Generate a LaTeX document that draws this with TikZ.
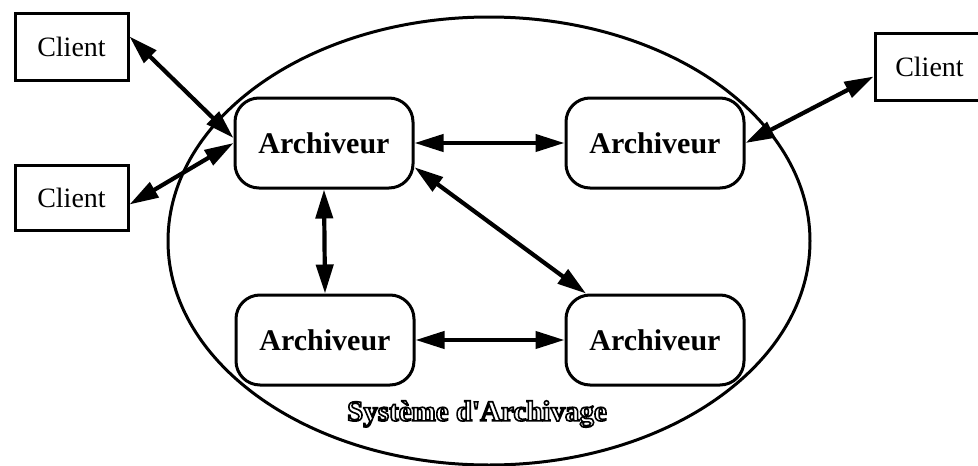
\documentclass[tikz,border=0pt]{standalone}
\usepackage{fontspec}
\setmainfont{Liberation Serif}
% plain family without TeX ligature mapping, so ' stays straight
\newfontfamily\labelfont{Liberation Serif}
\usetikzlibrary{arrows.meta,calc}

% outlined lettering: stroke the glyphs instead of filling them
\newcommand{\outlined}[1]{%
  \special{pdf:literal direct 1 Tr 1.6 w}#1\special{pdf:literal direct 0 Tr 1 w}}

\begin{document}
\begin{tikzpicture}[x=1pt,y=-1pt,
  client/.style={draw,line width=3pt,minimum width=113pt,minimum height=67pt,
    inner sep=0pt,font=\fontsize{28}{30}\selectfont},
  archiveur/.style={draw,line width=3pt,rounded corners=24pt,fill=white,
    minimum width=178pt,minimum height=90pt,inner sep=0pt,
    font=\fontsize{30}{32}\selectfont\bfseries},
  headtip/.tip={Triangle[length=29pt,width=17pt]},
  link/.style={line width=4.2pt,headtip-headtip}]

\useasboundingbox (0,0) rectangle (978,466);

% archiving system boundary
\draw[line width=3pt] (489,241) ellipse [x radius=321pt, y radius=224pt];

% clients
\node[client] (c1) at (71.5,46.5) {Client};
\node[client,minimum height=65pt] (c2) at (71.5,197.5) {Client};
\node[client,minimum width=109pt] (c3) at (929.5,66.5) {Client};

% archivers
\node[archiveur] (a1) at (324,143) {Archiveur};
\node[archiveur] (a2) at (655,143) {Archiveur};
\node[archiveur] (a3) at (325,340) {Archiveur};
\node[archiveur] (a4) at (655,340) {Archiveur};

% system label
\node[font=\labelfont\fontsize{29}{31}\selectfont\bfseries] (sys) at (477,414)
  {\outlined{Système d'Archivage}};

% links
\draw[link] ($(c1.east)+(0,-10)$) -- ($(a1.west)+(0,-5)$);
\draw[link] ($(c2.east)+(0,7)$) -- (a1.west);
\draw[link] (a2.east) -- ($(c3.west)+(0,10)$);
\draw[link] (a1.east) -- (a2.west);
\draw[link] (a1.south) -- (a3.north);
\draw[link] (a3.east) -- (a4.west);
\draw[link] (a1.-15) -- (a4.146);

\end{tikzpicture}
\end{document}
